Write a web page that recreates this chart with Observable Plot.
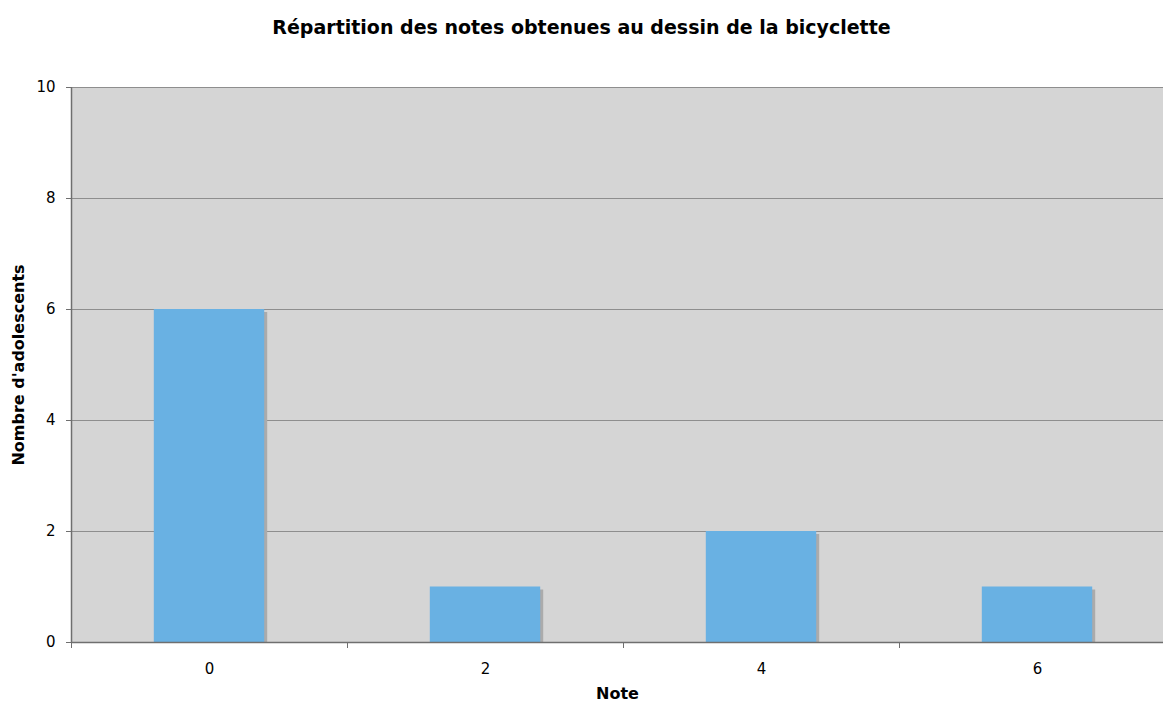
<!DOCTYPE html>
<html>
<head>
<meta charset="utf-8">
<script src="https://cdn.jsdelivr.net/npm/d3@7"></script>
<script src="https://cdn.jsdelivr.net/npm/@observablehq/plot@0.6"></script>
<style>
  html, body { margin: 0; padding: 0; background: #fff; overflow: hidden; }
  body { width: 1163px; height: 702px; font-family: "DejaVu Sans", Verdana, sans-serif; }
  #title { height: 60px; box-sizing: border-box; padding-top: 17px; text-align: center;
           font-weight: bold; font-size: 19px; color: #000; line-height: 20px; }
  g[aria-label="y-axis label"], g[aria-label="x-axis label"] { font-weight: bold; font-size: 16px; }
</style>
</head>
<body>
<div id="title">Répartition des notes obtenues au dessin de la bicyclette</div>
<div id="chart"></div>
<script>
const notes = [0, 2, 4, 6];
const counts = [6, 1, 2, 1];
const yTicks = [0, 2, 4, 6, 8, 10];
const xDomain = [-1, 7];
const boundaryTicks = [-1, 1, 3, 5];
const yLabel = "Nombre d'adolescents";
const xLabel = "Note";

const data = notes.map((n, i) => ({note: n, count: counts[i]}));
const half = 0.4;

const chart = Plot.plot({
  width: 1163,
  height: 642,
  marginTop: 27,
  marginBottom: 60,
  marginLeft: 71,
  marginRight: 0,
  style: {background: "transparent", fontFamily: "DejaVu Sans, Verdana, sans-serif", fontSize: "15px", color: "#000", overflow: "hidden"},
  x: {type: "linear", domain: xDomain, range: [71, 1175]},
  y: {domain: [0, 10]},
  marks: [
    Plot.frame({fill: "#d5d5d5", stroke: null}),
    Plot.ruleY(yTicks, {stroke: "#8e8e8e", strokeOpacity: 1}),
    Plot.rectY(data, {x1: d => d.note - half, x2: d => d.note + half, y: "count", fill: "#ababab", dx: 3, dy: 3, insetBottom: 3}),
    Plot.rectY(data, {x1: d => d.note - half, x2: d => d.note + half, y: "count", fill: "#69b1e3"}),
    Plot.ruleY([0], {stroke: "#6f6f6f", strokeWidth: 1.5}),
    Plot.ruleX([xDomain[0]], {stroke: "#6f6f6f", strokeWidth: 1.5}),
    Plot.axisY({ticks: yTicks, tickSize: 5, tickPadding: 11, stroke: "#6f6f6f", color: "#000",
      label: yLabel, labelAnchor: "center", labelOffset: 59, labelArrow: "none"}),
    Plot.axisX({ticks: boundaryTicks, tickSize: 6, tickFormat: () => "", stroke: "#6f6f6f", label: null}),
    Plot.axisX({ticks: notes, tickSize: 0, tickPadding: 21, color: "#000",
      label: xLabel, labelAnchor: "center", labelOffset: 56, labelArrow: "none"})
  ]
});
document.getElementById("chart").appendChild(chart);
</script>
</body>
</html>
